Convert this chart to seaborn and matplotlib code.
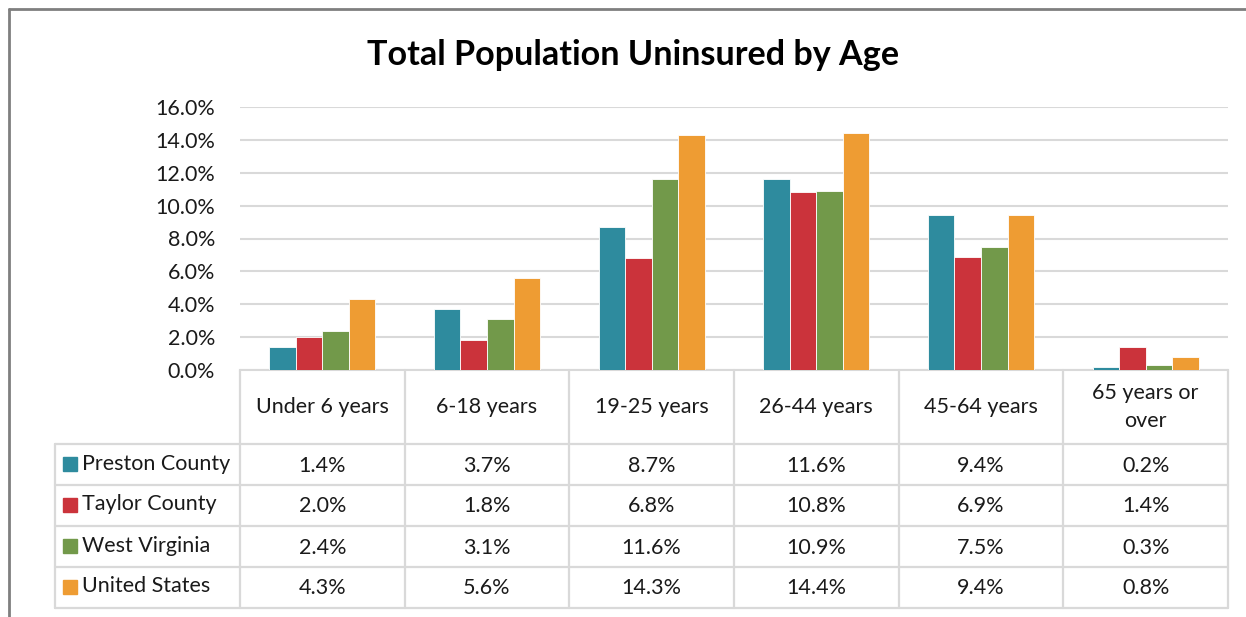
import matplotlib
matplotlib.use("Agg")
import matplotlib.pyplot as plt
import seaborn as sns
import pandas as pd
from matplotlib.lines import Line2D
from matplotlib.patches import Rectangle

categories = ["Under 6 years", "6-18 years", "19-25 years", "26-44 years", "45-64 years", "65 years or\nover"]
series = ["Preston County", "Taylor County", "West Virginia", "United States"]
preston = [1.4, 3.7, 8.7, 11.6, 9.4, 0.2]
taylor = [2.0, 1.8, 6.8, 10.8, 6.9, 1.4]
west_virginia = [2.4, 3.1, 11.6, 10.9, 7.5, 0.3]
united_states = [4.3, 5.6, 14.3, 14.4, 9.4, 0.8]
yticks = [0, 2, 4, 6, 8, 10, 12, 14, 16]
colors = ["#2E8B9E", "#CB333B", "#72994A", "#EE9C33"]
title = "Total Population Uninsured by Age"

values = [preston, taylor, west_virginia, united_states]
rows = []
for s, vals in zip(series, values):
    for c, v in zip(categories, vals):
        rows.append({"Age": c, "Area": s, "Pct": v})
df = pd.DataFrame(rows)

sns.set_theme(style="white")
FONT = ["Lato", "DejaVu Sans"]
plt.rcParams["font.family"] = FONT
FS = 15.5
TC = "#1a1a1a"

W, H = 1246, 617
fig = plt.figure(figsize=(W / 100, H / 100), dpi=100)
fig.patch.set_facecolor("white")

x0, x1 = 240, 1228
y_zero, y_top = 370, 107
ax = fig.add_axes([x0 / W, (H - y_zero) / H, (x1 - x0) / W, (y_zero - y_top) / H])
sns.barplot(data=df, x="Age", y="Pct", hue="Area", order=categories, hue_order=series,
            palette=colors, saturation=1, width=0.645, gap=0, ax=ax,
            edgecolor="white", linewidth=0.6, legend=False, zorder=3)
ax.set_xlim(-0.5, len(categories) - 0.5)
ax.set_ylim(0, 16)
ax.set_yticks(yticks)
ax.set_yticklabels([f"{t:.1f}%" for t in yticks], fontsize=FS, color=TC)
ax.tick_params(axis="y", length=0, pad=18)
ax.set_xticks([])
ax.set_xlabel("")
ax.set_ylabel("")
ax.grid(axis="y", color="#D9D9D9", linewidth=1.5, zorder=0)
ax.set_axisbelow(True)
for sp in ["top", "right", "left"]:
    ax.spines[sp].set_visible(False)
ax.spines["bottom"].set_color("#D9D9D9")
ax.spines["bottom"].set_linewidth(1.5)

# Overlay for table + frame in pixel coordinates
ov = fig.add_axes([0, 0, 1, 1], facecolor="none")
ov.set_xlim(0, W)
ov.set_ylim(H, 0)
ov.axis("off")

fig.text(0.5 * (367 + 899) / W, 1 - 55 / H, title, ha="center", va="center",
         fontsize=24.6, fontweight="bold", color="#000000", family=FONT)

# frame
ov.add_line(Line2D([9, 9], [9, H], color="#7f7f7f", lw=2))
ov.add_line(Line2D([9, W], [9, 9], color="#7f7f7f", lw=2))

ncat = len(categories)
colw = (x1 - x0) / ncat
col_edges = [x0 + i * colw for i in range(ncat + 1)]
header_bottom = 444
row_h = 41
row_edges = [header_bottom + i * row_h for i in range(len(series) + 1)]
label_left = 55
lc = "#D9D9D9"
lw = 1.6
for xe in col_edges:
    ov.add_line(Line2D([xe, xe], [y_zero, row_edges[-1]], color=lc, lw=lw))
ov.add_line(Line2D([label_left, label_left], [header_bottom, row_edges[-1]], color=lc, lw=lw))
for ye in row_edges:
    ov.add_line(Line2D([label_left, x1], [ye, ye], color=lc, lw=lw))

# header text
for i, c in enumerate(categories):
    ov.text(x0 + (i + 0.5) * colw, (y_zero + header_bottom) / 2 + 0, c, ha="center", va="center",
            fontsize=FS, color=TC, linespacing=1.45)

# row labels and values
for r, (s, vals, col) in enumerate(zip(series, values, colors)):
    yc = row_edges[r] + row_h / 2
    ov.add_patch(Rectangle((63, yc - 8), 14, 14, color=col))
    ov.text(82, yc - 1, s, ha="left", va="center", fontsize=FS, color=TC)
    for i, v in enumerate(vals):
        ov.text(x0 + (i + 0.5) * colw, yc + 1, f"{v:.1f}%", ha="center", va="center",
                fontsize=FS, color=TC)

fig.savefig("out.png", dpi=100)
